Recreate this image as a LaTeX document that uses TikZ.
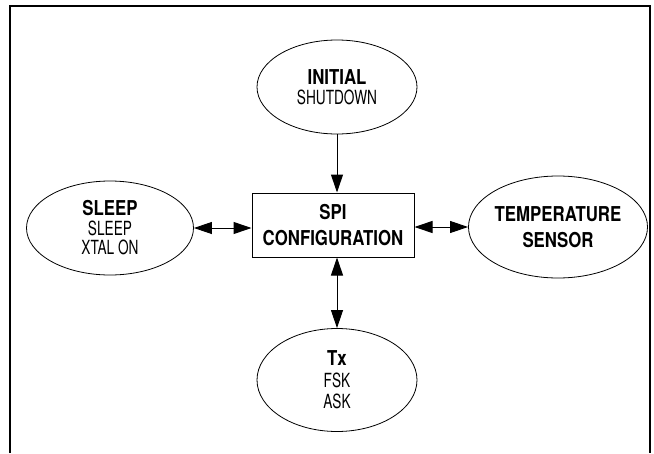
\documentclass[tikz,border=0pt]{standalone}
\usepackage{fontspec}
\usetikzlibrary{shapes.geometric,arrows.meta}
\newfontfamily\regf{TeX Gyre Heros}[FakeStretch=0.7]
\newfontfamily\boldf{TeX Gyre Heros}[FakeStretch=0.82]
\newcommand\Bf{\boldf\bfseries\fontsize{20.5}{26}\selectfont}
\newcommand\Rf{\regf\fontsize{19.5}{19.5}\selectfont}
\tikzset{
  tip/.tip={Triangle[length=18pt,width=12pt]},
  ell/.style={ellipse, draw, line width=0.8pt, inner sep=0pt, align=center, font=\Rf},
  cfgbox/.style={rectangle, draw, line width=1pt, inner sep=0pt, align=center, font=\Bf,
    minimum width=162pt, minimum height=64pt},
  conn/.style={line width=1pt, -tip},
  biconn/.style={line width=1pt, tip-tip},
}
\begin{document}
\begin{tikzpicture}[x=1pt,y=-1pt]
\useasboundingbox (0,0) rectangle (654,453);
\draw[line width=2pt] (10,453) -- (10,6) -- (650,6) -- (650,453);
\node[ell, minimum width=160pt, minimum height=94pt] (initial) at (337,87)
  {{\Bf INITIAL}\\SHUTDOWN};
\node[cfgbox] (cfg) at (333,225) {SPI\\CONFIGURATION};
\node[ell, minimum width=167pt, minimum height=94pt] (sleep) at (110,228)
  {{\Bf SLEEP}\\SLEEP\\XTAL ON};
\node[ell, minimum width=164pt, minimum height=102pt, font=\Bf] (temp) at (558,227)
  {TEMPERATURE\\SENSOR};
\node[ell, minimum width=160pt, minimum height=103pt] (tx) at (337,380)
  {{\Bf Tx}\\[2pt]FSK\\[2pt]ASK};
\draw[conn] (initial.south) -- (initial.south |- cfg.north);
\draw[biconn] (tx.north |- cfg.south) -- (tx.north);
\draw[biconn] (sleep.east) -- (sleep.east -| cfg.west);
\draw[biconn] (cfg.east |- temp.west) -- (temp.west);
\end{tikzpicture}
\end{document}
